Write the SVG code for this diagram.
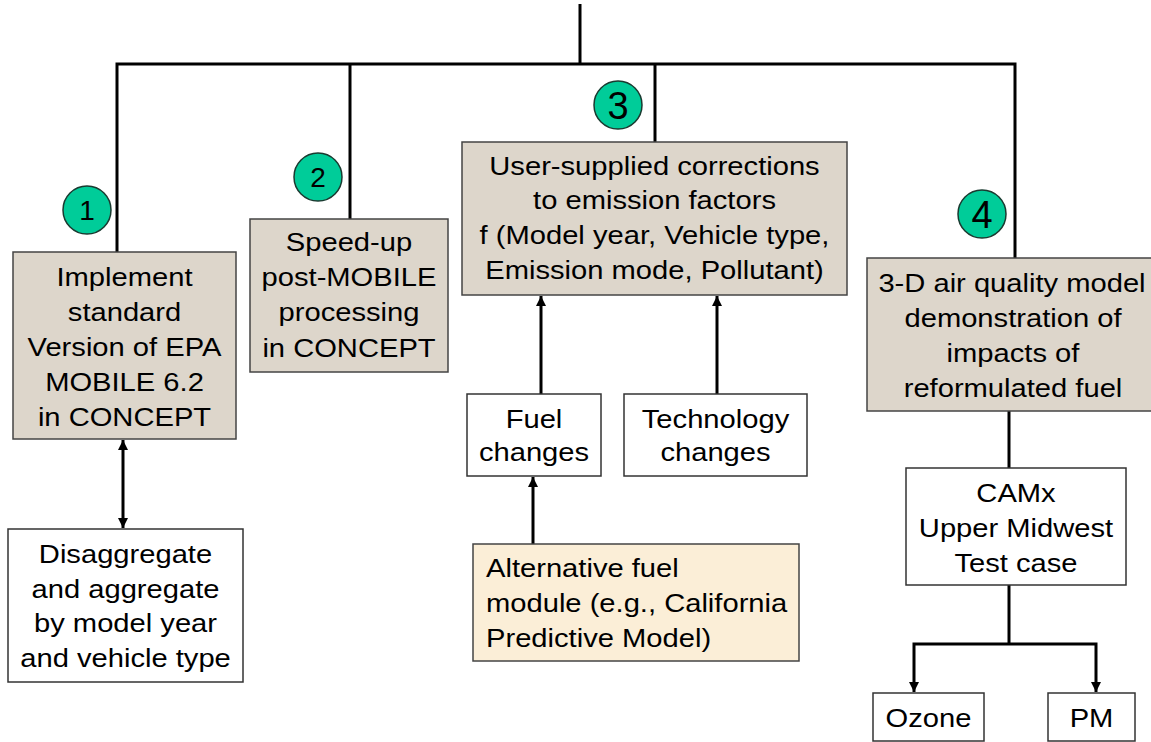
<svg xmlns="http://www.w3.org/2000/svg" width="1151" height="742" viewBox="0 0 1151 742">
<defs>
<marker id="ah" viewBox="0 0 10 10" refX="10" refY="5" markerWidth="3.4" markerHeight="3.4" markerUnits="strokeWidth" orient="auto-start-reverse">
<path d="M0,0 L10,5 L0,10 z" fill="#000"/>
</marker>
</defs>
<style>
text{font-family:"Liberation Sans",Arial,sans-serif;fill:#000;}
.t{font-size:26.5px;text-anchor:middle;}
.tl{font-size:26.5px;text-anchor:start;}
.tan{fill:#ddd6cb;stroke:#444;stroke-width:1.5;}
.wh{fill:#fff;stroke:#333;stroke-width:1.5;}
.alt{fill:#fbeed7;stroke:#444;stroke-width:1.5;}
.c{fill:#00cc99;stroke:#1a3a30;stroke-width:1.5;}
.cn{font-size:28px;text-anchor:middle;}
.cb{font-size:38px;text-anchor:middle;}
.ln{fill:none;stroke:#000;stroke-width:3;}
.ar{fill:none;stroke:#000;stroke-width:3;marker-end:url(#ah);}
.ar2{fill:none;stroke:#000;stroke-width:3;marker-end:url(#ah);marker-start:url(#ah);}
</style>
<rect width="1151" height="742" fill="#fff"/>
<g id="connectors">
<path class="ln" d="M580,4 V64"/>
<path class="ln" d="M117,252 V64 H1015 V258"/>
<path class="ln" d="M350,64 V219"/>
<path class="ln" d="M655,64 V142"/>
<path class="ar2" d="M123,440 V528"/>
<path class="ar" d="M541,394 V296"/>
<path class="ar" d="M717,394 V296"/>
<path class="ar" d="M533,544 V477"/>
<path class="ln" d="M1009,411 V468"/>
<path class="ln" d="M1009,585 V644"/>
<path class="ar" d="M1009,644 H914 V692"/>
<path class="ar" d="M1009,644 H1096 V692"/>
</g>
<g id="badge1"><circle class="c" cx="87" cy="210" r="24"/><text class="cn" x="87" y="220">1</text></g>
<g id="badge2"><circle class="c" cx="318" cy="177" r="24"/><text class="cn" x="318" y="187">2</text></g>
<g id="badge3"><circle class="c" cx="618" cy="105" r="24"/><text class="cb" x="618" y="119">3</text></g>
<g id="badge4"><circle class="c" cx="982" cy="214" r="24"/><text class="cb" x="982" y="228">4</text></g>
<g id="node1">
<rect class="tan" x="13" y="252" width="223" height="187"/>
<text class="t" transform="translate(124.5,286) scale(1.1,1)">Implement</text>
<text class="t" transform="translate(124.5,321) scale(1.1,1)">standard</text>
<text class="t" transform="translate(124.5,356) scale(1.1,1)">Version of EPA</text>
<text class="t" transform="translate(124.5,391) scale(1.1,1)">MOBILE 6.2</text>
<text class="t" transform="translate(124.5,426) scale(1.1,1)">in CONCEPT</text>
</g>
<g id="node2">
<rect class="tan" x="250" y="219" width="198" height="153"/>
<text class="t" transform="translate(349,251) scale(1.1,1)">Speed-up</text>
<text class="t" transform="translate(349,286) scale(1.1,1)">post-MOBILE</text>
<text class="t" transform="translate(349,321) scale(1.1,1)">processing</text>
<text class="t" transform="translate(349,357) scale(1.1,1)">in CONCEPT</text>
</g>
<g id="node3">
<rect class="tan" x="462" y="142" width="385" height="153"/>
<text class="t" transform="translate(654.5,175) scale(1.1,1)">User-supplied corrections</text>
<text class="t" transform="translate(654.5,209) scale(1.1,1)">to emission factors</text>
<text class="t" transform="translate(654.5,244) scale(1.1,1)">f (Model year, Vehicle type,</text>
<text class="t" transform="translate(654.5,279) scale(1.1,1)">Emission mode, Pollutant)</text>
</g>
<g id="node4">
<rect class="tan" x="867" y="258" width="300" height="153"/>
<text class="t" transform="translate(1012,292) scale(1.1,1)">3-D air quality model</text>
<text class="t" transform="translate(1013,327) scale(1.1,1)">demonstration of</text>
<text class="t" transform="translate(1013,362) scale(1.1,1)">impacts of</text>
<text class="t" transform="translate(1013,397) scale(1.1,1)">reformulated fuel</text>
</g>
<g id="disaggregate">
<rect class="wh" x="8" y="529" width="235" height="153"/>
<text class="t" transform="translate(125.5,563) scale(1.1,1)">Disaggregate</text>
<text class="t" transform="translate(125.5,598) scale(1.1,1)">and aggregate</text>
<text class="t" transform="translate(125.5,632) scale(1.1,1)">by model year</text>
<text class="t" transform="translate(125.5,667) scale(1.1,1)">and vehicle type</text>
</g>
<g id="fuel">
<rect class="wh" x="467" y="394" width="134" height="82"/>
<text class="t" transform="translate(534,428) scale(1.1,1)">Fuel</text>
<text class="t" transform="translate(534,461) scale(1.1,1)">changes</text>
</g>
<g id="technology">
<rect class="wh" x="624" y="394" width="183" height="82"/>
<text class="t" transform="translate(715.5,428) scale(1.1,1)">Technology</text>
<text class="t" transform="translate(715.5,461) scale(1.1,1)">changes</text>
</g>
<g id="altfuel">
<rect class="alt" x="473" y="544" width="326" height="117"/>
<text class="tl" transform="translate(486,577) scale(1.1,1)">Alternative fuel</text>
<text class="tl" transform="translate(486,612) scale(1.1,1)">module (e.g., California</text>
<text class="tl" transform="translate(486,647) scale(1.1,1)">Predictive Model)</text>
</g>
<g id="camx">
<rect class="wh" x="906" y="468" width="220" height="117"/>
<text class="t" transform="translate(1016,502) scale(1.1,1)">CAMx</text>
<text class="t" transform="translate(1016,537) scale(1.1,1)">Upper Midwest</text>
<text class="t" transform="translate(1016,572) scale(1.1,1)">Test case</text>
</g>
<g id="ozone">
<rect class="wh" x="873" y="693" width="111" height="48"/>
<text class="t" transform="translate(928.5,727) scale(1.1,1)">Ozone</text>
</g>
<g id="pm">
<rect class="wh" x="1048" y="693" width="87" height="48"/>
<text class="t" transform="translate(1091.5,727) scale(1.1,1)">PM</text>
</g>
</svg>
